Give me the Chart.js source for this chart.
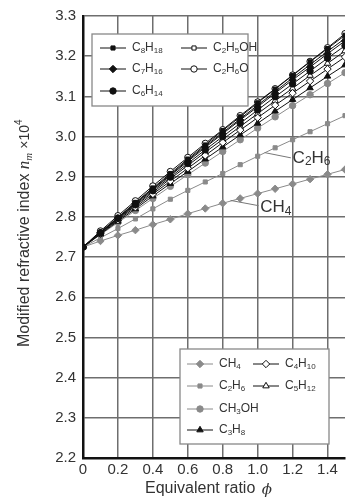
<!DOCTYPE html>
<html>
<head>
<meta charset="utf-8">
<script src="https://cdn.jsdelivr.net/npm/chart.js"></script>
<style>
  html, body { margin: 0; padding: 0; background: #fff; }
  #wrap { width: 350px; height: 500px; position: relative; }
</style>
</head>
<body>
<div id="wrap"><canvas id="chart" width="350" height="500"></canvas></div>
<script>
// equivalence ratio, every 0.1
const phi = [0, 0.1, 0.2, 0.3, 0.4, 0.5, 0.6, 0.7, 0.8, 0.9, 1.0, 1.1, 1.2, 1.3, 1.4, 1.5];
const xTicks = [0, 0.2, 0.4, 0.6, 0.8, 1.0, 1.2, 1.4];
const yTicks = [2.2, 2.3, 2.4, 2.5, 2.6, 2.7, 2.8, 2.9, 3.0, 3.1, 3.2, 3.3];

// n_m x 10^4
const c2h6o  = [2.725, 2.765, 2.803, 2.840, 2.877, 2.913, 2.948, 2.983, 3.017, 3.052, 3.086, 3.119, 3.153, 3.187, 3.221, 3.256];
const c8h18  = [2.725, 2.762, 2.799, 2.836, 2.872, 2.908, 2.944, 2.979, 3.015, 3.049, 3.084, 3.118, 3.152, 3.186, 3.219, 3.252];
const c2h5oh = [2.725, 2.762, 2.798, 2.834, 2.870, 2.905, 2.941, 2.976, 3.010, 3.044, 3.078, 3.112, 3.146, 3.179, 3.212, 3.244];
const c7h16  = [2.725, 2.761, 2.797, 2.833, 2.868, 2.903, 2.938, 2.973, 3.007, 3.041, 3.074, 3.108, 3.141, 3.173, 3.206, 3.238];
const c6h14  = [2.725, 2.760, 2.796, 2.830, 2.865, 2.899, 2.933, 2.967, 3.000, 3.033, 3.066, 3.099, 3.131, 3.163, 3.195, 3.226];
const c5h12  = [2.725, 2.760, 2.794, 2.828, 2.861, 2.895, 2.928, 2.961, 2.993, 3.025, 3.057, 3.089, 3.120, 3.152, 3.182, 3.213];
const c4h10  = [2.725, 2.758, 2.792, 2.824, 2.857, 2.889, 2.921, 2.953, 2.985, 3.016, 3.047, 3.078, 3.108, 3.138, 3.168, 3.198];
const c3h8   = [2.725, 2.757, 2.789, 2.820, 2.852, 2.883, 2.913, 2.944, 2.974, 3.004, 3.033, 3.063, 3.092, 3.121, 3.150, 3.178];
const ch3oh  = [2.725, 2.756, 2.786, 2.816, 2.846, 2.876, 2.905, 2.934, 2.963, 2.992, 3.021, 3.049, 3.077, 3.104, 3.132, 3.159];
const c2h6   = [2.725, 2.748, 2.771, 2.795, 2.820, 2.844, 2.866, 2.887, 2.908, 2.930, 2.951, 2.972, 2.992, 3.012, 3.032, 3.052];
const ch4    = [2.725, 2.740, 2.754, 2.767, 2.781, 2.794, 2.808, 2.821, 2.834, 2.846, 2.858, 2.870, 2.882, 2.894, 2.906, 2.918];

const BLACK = '#111';
const GRAY = '#8a8a8a';
const FONT = '"Liberation Sans", Arial, sans-serif';
const TEXT = '#333';

// first entry is drawn on top
const series = [
  { name: 'C8H18',  data: c8h18,  color: BLACK, style: 'rect',    fill: BLACK },
  { name: 'C7H16',  data: c7h16,  color: BLACK, style: 'rectRot', fill: BLACK },
  { name: 'C6H14',  data: c6h14,  color: BLACK, style: 'circle',  fill: BLACK },
  { name: 'C2H5OH', data: c2h5oh, color: BLACK, style: 'rect',    fill: '#fff' },
  { name: 'C2H6O',  data: c2h6o,  color: BLACK, style: 'circle',  fill: '#fff' },
  { name: 'C4H10',  data: c4h10,  color: BLACK, style: 'rectRot', fill: '#fff' },
  { name: 'C5H12',  data: c5h12,  color: BLACK, style: 'triangle', fill: '#fff' },
  { name: 'C3H8',   data: c3h8,   color: BLACK, style: 'triangle', fill: BLACK },
  { name: 'CH3OH',  data: ch3oh,  color: GRAY,  style: 'circle',  fill: GRAY },
  { name: 'C2H6',   data: c2h6,   color: GRAY,  style: 'rect',    fill: GRAY },
  { name: 'CH4',    data: ch4,    color: GRAY,  style: 'rectRot', fill: GRAY }
];

const topLegend = [['C8H18', 'C2H5OH'], ['C7H16', 'C2H6O'], ['C6H14']];
const bottomLegend = [['CH4', 'C4H10'], ['C2H6', 'C5H12'], ['CH3OH'], ['C3H8']];

const radiusFor = s => (s === 'rect' ? 2.9 : s === 'circle' ? 3.2 : 3.7);

// formula text, digits as subscripts
function drawChem(ctx, str, x, y, size) {
  ctx.textBaseline = 'middle';
  ctx.textAlign = 'left';
  for (const ch of str) {
    if (/[0-9]/.test(ch)) {
      ctx.font = `${Math.round(size * 0.7)}px ${FONT}`;
      ctx.fillText(ch, x, y + size * 0.22);
    } else {
      ctx.font = `${size}px ${FONT}`;
      ctx.fillText(ch, x, y);
    }
    x += ctx.measureText(ch).width;
  }
  return x;
}

function drawMarker(ctx, s, x, y) {
  ctx.save();
  ctx.fillStyle = s.fill;
  ctx.strokeStyle = s.color;
  ctx.lineWidth = 1;
  Chart.helpers.drawPoint(ctx, { pointStyle: s.style, radius: radiusFor(s.style), rotation: 0, borderWidth: 1 }, x, y);
  ctx.restore();
}

function drawLegend(ctx, rows, box, colX, rowY, size) {
  ctx.save();
  ctx.fillStyle = '#fff';
  ctx.fillRect(box.x, box.y, box.w, box.h);
  ctx.strokeStyle = '#888';
  ctx.lineWidth = 1.3;
  ctx.strokeRect(box.x, box.y, box.w, box.h);
  rows.forEach((row, r) => {
    row.forEach((name, c) => {
      const s = series.find(d => d.name === name);
      const x0 = box.x + colX[c];
      const y0 = box.y + rowY[r];
      ctx.strokeStyle = s.color;
      ctx.lineWidth = 1;
      ctx.beginPath();
      ctx.moveTo(x0, y0);
      ctx.lineTo(x0 + 26, y0);
      ctx.stroke();
      drawMarker(ctx, s, x0 + 13, y0);
      ctx.fillStyle = TEXT;
      drawChem(ctx, name, x0 + 32, y0, size);
    });
  });
  ctx.restore();
}

const overlay = {
  id: 'overlay',
  afterDatasetsDraw(chart) {
    const { ctx, chartArea: a, scales: { x, y } } = chart;
    ctx.save();

    // callouts
    ctx.strokeStyle = '#777';
    ctx.lineWidth = 1;
    ctx.beginPath();
    ctx.moveTo(x.getPixelForValue(1.04), y.getPixelForValue(2.960));
    ctx.lineTo(x.getPixelForValue(1.19), y.getPixelForValue(2.947));
    ctx.moveTo(x.getPixelForValue(0.845), y.getPixelForValue(2.841));
    ctx.lineTo(x.getPixelForValue(1.005), y.getPixelForValue(2.828));
    ctx.stroke();
    ctx.fillStyle = TEXT;
    drawChem(ctx, 'C2H6', x.getPixelForValue(1.2), y.getPixelForValue(2.946), 17);
    drawChem(ctx, 'CH4', x.getPixelForValue(1.015), y.getPixelForValue(2.823), 17);

    drawLegend(ctx, topLegend, { x: a.left + 9, y: a.top + 18, w: 156, h: 72 },
      [8, 89], [14, 35, 57], 12);
    drawLegend(ctx, bottomLegend, { x: a.left + 97, y: a.top + 333, w: 149, h: 95 },
      [7, 73], [15, 37, 60, 81], 12);

    // axis titles
    ctx.fillStyle = TEXT;
    ctx.textBaseline = 'middle';
    ctx.textAlign = 'left';
    let tx = 145;
    ctx.font = `16px ${FONT}`;
    ctx.fillText('Equivalent ratio ', tx, 489);
    tx += ctx.measureText('Equivalent ratio ').width + 2;
    ctx.font = `italic 15px "DejaVu Serif", serif`;
    ctx.fillText('\u03d5', tx, 490);

    ctx.translate(25, 347);
    ctx.rotate(-Math.PI / 2);
    let px = 0;
    ctx.font = `16px ${FONT}`;
    ctx.fillText('Modified refractive index ', px, 0);
    px += ctx.measureText('Modified refractive index ').width;
    ctx.font = `italic 17px "Liberation Serif", serif`;
    ctx.fillText('n', px, 0);
    px += ctx.measureText('n').width;
    ctx.font = `italic 11px "Liberation Serif", serif`;
    ctx.fillText('m', px, 4);
    px += ctx.measureText('m').width + 4;
    ctx.font = `14px ${FONT}`;
    ctx.fillText('\u00d710', px, 0);
    px += ctx.measureText('\u00d710').width;
    ctx.font = `10px ${FONT}`;
    ctx.fillText('4', px, -6);
    ctx.restore();
  }
};

const datasets = series.map(s => ({
  label: s.name,
  data: phi.map((p, i) => ({ x: p, y: s.data[i] })),
  borderColor: s.color,
  borderWidth: 1,
  pointStyle: s.style,
  pointRadius: radiusFor(s.style),
  pointBackgroundColor: s.fill,
  pointBorderColor: s.color,
  pointBorderWidth: 1,
  tension: 0,
  fill: false
}));

new Chart(document.getElementById('chart'), {
  type: 'line',
  data: { datasets },
  options: {
    responsive: false,
    animation: false,
    devicePixelRatio: 1,
    layout: { padding: { top: 15, right: 0, left: 0, bottom: 0 } },
    plugins: { legend: { display: false }, tooltip: { enabled: false } },
    scales: {
      x: {
        type: 'linear',
        min: 0,
        max: 1.5,
        afterBuildTicks: s => { s.ticks = xTicks.map(v => ({ value: v })); },
        afterFit: s => { s.height = 42; },
        ticks: {
          callback: v => (v === 0 ? '0' : v.toFixed(1)),
          font: { size: 15, family: FONT },
          color: TEXT,
          padding: 3,
          maxRotation: 0
        },
        grid: { color: '#6e6e6e', lineWidth: 1.5, drawTicks: false },
        border: { color: '#111', width: 2.5 }
      },
      y: {
        type: 'linear',
        min: 2.2,
        max: 3.3,
        afterBuildTicks: s => { s.ticks = yTicks.map(v => ({ value: v })); },
        afterFit: s => { s.width = 83; },
        ticks: {
          callback: v => v.toFixed(1),
          font: { size: 15, family: FONT },
          color: TEXT,
          padding: 7
        },
        grid: { color: '#6e6e6e', lineWidth: 1.5, drawTicks: false },
        border: { color: '#111', width: 2.5 }
      }
    }
  },
  plugins: [overlay]
});
</script>
</body>
</html>
